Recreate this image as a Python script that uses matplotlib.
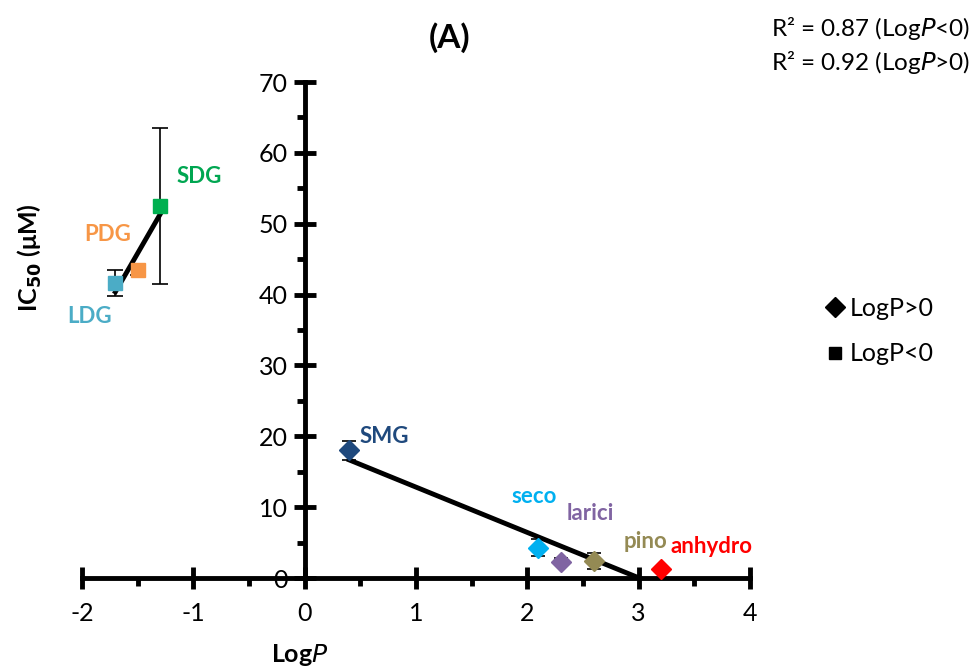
import numpy as np
import matplotlib
matplotlib.use("Agg")
import matplotlib.pyplot as plt
from matplotlib.lines import Line2D

plt.rcParams['font.family'] = ['Lato', 'DejaVu Sans']
plt.rcParams['axes.unicode_minus'] = False

# LogP < 0 compounds (squares)
neg_names = ['LDG', 'PDG', 'SDG']
neg_logp = [-1.7, -1.5, -1.3]
neg_ic50 = [41.6, 43.4, 52.5]
neg_err = [1.8, 0.6, 11.0]
neg_colors = ['#4BACC6', '#F79646', '#00B050']

# LogP > 0 compounds (diamonds)
pos_names = ['SMG', 'seco', 'larici', 'pino', 'anhydro']
pos_logp = [0.4, 2.1, 2.3, 2.6, 3.2]
pos_ic50 = [18.0, 4.3, 2.3, 2.4, 1.3]
pos_err = [1.3, 1.2, 0.5, 1.1, 0.3]
pos_colors = ['#1F497D', '#00B0F0', '#8064A2', '#948A54', '#FF0000']

label_colors = {'LDG': '#4BACC6', 'PDG': '#F79646', 'SDG': '#00A651',
                'SMG': '#1F497D', 'seco': '#00B0F0', 'larici': '#8064A2',
                'pino': '#948A54', 'anhydro': '#FF0000'}
# label centre offsets in points from the marker
label_off = {'LDG': (-18.7, -23.8), 'PDG': (-21.6, 25.9), 'SDG': (28, 20.9),
             'SMG': (25.2, 10.1), 'seco': (-2.9, 36.7), 'larici': (21.6, 34.6),
             'pino': (36.7, 13.7), 'anhydro': (36.7, 15.8)}

fig = plt.figure(figsize=(9.74, 6.68), dpi=100)
ax = fig.add_axes([82 / 974, 1 - 578 / 668, 668 / 974, 496 / 668])

# trend lines
for xs, ys in [(neg_logp, neg_ic50), (pos_logp, pos_ic50)]:
    k, b = np.polyfit(xs, ys, 1)
    xx = np.array([min(xs), max(xs)])
    ax.plot(xx, k * xx + b, color='black', lw=3.5, zorder=2)

for i, n in enumerate(neg_names):
    ax.errorbar(neg_logp[i], neg_ic50[i], yerr=neg_err[i], fmt='s',
                color=neg_colors[i], ms=10, ecolor='black', elinewidth=1.2,
                capsize=6, capthick=1.2, zorder=3, clip_on=False)
    ax.annotate(n, (neg_logp[i], neg_ic50[i]), xytext=label_off[n],
                textcoords='offset points', fontsize=16, fontweight='bold',
                color=label_colors[n], ha='center', va='center')

for i, n in enumerate(pos_names):
    ax.errorbar(pos_logp[i], pos_ic50[i], yerr=pos_err[i], fmt='D',
                color=pos_colors[i], ms=10, ecolor='black', elinewidth=1.2,
                capsize=5, capthick=1.2, zorder=3, clip_on=False)
    ax.annotate(n, (pos_logp[i], pos_ic50[i]), xytext=label_off[n],
                textcoords='offset points', fontsize=16, fontweight='bold',
                color=label_colors[n], ha='center', va='center')

ax.set_xlim(-2, 4)
ax.set_ylim(0, 70)
ax.spines['left'].set_position(('data', 0))
ax.spines['bottom'].set_position(('data', 0))
ax.spines['right'].set_visible(False)
ax.spines['top'].set_visible(False)
for s in ['left', 'bottom']:
    ax.spines[s].set_linewidth(3.5)

ax.set_xticks(np.arange(-2, 5, 1))
ax.set_yticks(np.arange(0, 71, 10))
ax.set_xticks(np.arange(-1.5, 4, 1), minor=True)
ax.set_yticks(np.arange(5, 70, 10), minor=True)
ax.tick_params(which='major', direction='inout', length=16, width=3.5,
               labelsize=18, pad=6)
ax.tick_params(which='minor', direction='out', length=6, width=3.5)
ax.tick_params(axis='x', which='major', pad=9)
ax.tick_params(axis='y', which='major', pad=4)

handles = [Line2D([], [], marker='D', color='black', ls='none', ms=10),
           Line2D([], [], marker='s', color='black', ls='none', ms=9)]
fig.legend(handles, ['LogP>0', 'LogP<0'], loc='center left',
           bbox_to_anchor=(805 / 974, 1 - 331 / 668), frameon=False,
           fontsize=18, handlelength=0.6, handletextpad=0.3, labelspacing=0.9)

fig.text(450 / 974, 1 - 38 / 668, '(A)', fontsize=24, fontweight='bold',
         ha='center', va='center')
fig.text(970 / 974, 1 - 28 / 668, 'R² = 0.87 (Log$\\it{P}$<0)', fontsize=17.5,
         ha='right', va='center')
fig.text(970 / 974, 1 - 63 / 668, 'R² = 0.92 (Log$\\it{P}$>0)', fontsize=17.5,
         ha='right', va='center')
fig.text(300 / 974, 1 - 655 / 668, 'Log$\\bf{\\it{P}}$', fontsize=18,
         fontweight='bold', ha='center', va='center')
fig.text(30 / 974, 1 - 258 / 668, 'IC$_{\\bf{50}}$ (μM)', fontsize=18,
         fontweight='bold', rotation=90, ha='center', va='center')

fig.savefig('out.png', dpi=100)
